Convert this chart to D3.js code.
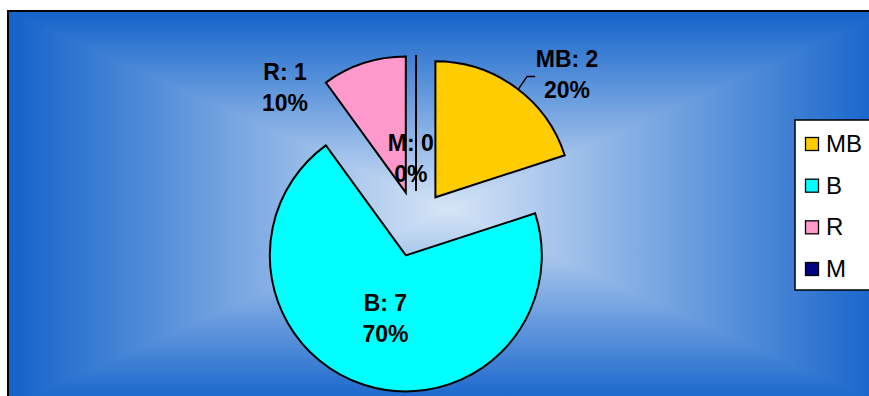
<!DOCTYPE html>
<html>
<head>
<meta charset="utf-8">
<script src="https://cdn.jsdelivr.net/npm/d3@7/dist/d3.min.js"></script>
<style>
  html, body { margin: 0; padding: 0; background: #ffffff; }
  svg { display: block; }
</style>
</head>
<body>
<svg id="chart" width="869" height="396"></svg>
<script>
// ---- data ----
const categories = ["MB", "B", "R", "M"];
const values = [2, 7, 1, 0];
const colors = ["#FFCC00", "#00FFFF", "#FF99CC", "#000080"];

// ---- layout ----
const svg = d3.select("#chart");
const plot = { x0: 8, y0: 11, x1: 888, y1: 407 };
const pieCenter = { x: 416, y: 224 };
const radius = 136;
const explode = 33;
const FONT = "'Liberation Sans', Arial, sans-serif";

// ---- background: rectangular "from center" gradient ----
const defs = svg.append("defs");
const cx = (plot.x0 + plot.x1) / 2, cy = (plot.y0 + plot.y1) / 2;
const edgeColor = "rgb(18,98,202)", centerColor = "rgb(214,229,246)";
function grad(id, x1, y1, x2, y2, spread) {
  const lg = defs.append("linearGradient").attr("id", id)
    .attr("gradientUnits", "userSpaceOnUse")
    .attr("x1", x1).attr("y1", y1).attr("x2", x2).attr("y2", y2)
    .attr("spreadMethod", spread || "pad");
  lg.append("stop").attr("offset", 0).attr("stop-color", edgeColor);
  lg.append("stop").attr("offset", 1).attr("stop-color", centerColor);
}
// horizontal gradient: edge -> center -> edge (reflect)
grad("gH", plot.x0, cy, cx, cy, "reflect");
grad("gTop", cx, plot.y0, cx, cy);
grad("gBot", cx, plot.y1, cx, cy);
svg.append("rect")
  .attr("x", plot.x0).attr("y", plot.y0)
  .attr("width", plot.x1 - plot.x0).attr("height", plot.y1 - plot.y0)
  .attr("fill", "url(#gH)");
svg.append("polygon")
  .attr("points", [[plot.x0, plot.y0], [plot.x1, plot.y0], [cx, cy]].map(p => p.join(",")).join(" "))
  .attr("fill", "url(#gTop)");
svg.append("polygon")
  .attr("points", [[plot.x0, plot.y1], [plot.x1, plot.y1], [cx, cy]].map(p => p.join(",")).join(" "))
  .attr("fill", "url(#gBot)");
svg.append("rect")
  .attr("x", plot.x0).attr("y", plot.y0)
  .attr("width", plot.x1 - plot.x0).attr("height", plot.y1 - plot.y0)
  .attr("fill", "none").attr("stroke", "#000").attr("stroke-width", 2);

// ---- pie ----
const data = categories.map((c, i) => ({ name: c, value: values[i], color: colors[i] }));
const total = d3.sum(values);
const pie = d3.pie().sort(null).value(d => d.value).startAngle(0).endAngle(2 * Math.PI);
const arcs = pie(data);
const arc = d3.arc().innerRadius(0).outerRadius(radius);

function offsetOf(a) {
  const mid = (a.startAngle + a.endAngle) / 2;
  return [Math.sin(mid) * explode, -Math.cos(mid) * explode];
}

const g = svg.append("g").attr("transform", `translate(${pieCenter.x},${pieCenter.y})`);
g.selectAll("path.slice")
  .data(arcs)
  .join("path")
  .attr("class", "slice")
  .attr("transform", d => `translate(${offsetOf(d)})`)
  .attr("d", d => {
    if (d.endAngle - d.startAngle < 1e-9) {
      const a = d.startAngle;
      return `M0,0L${Math.sin(a) * radius},${-Math.cos(a) * radius}`;
    }
    return arc(d);
  })
  .attr("fill", d => d.data.color)
  .attr("stroke", "#000")
  .attr("stroke-width", 2)
  .attr("stroke-linejoin", "miter");

// ---- data labels (polar placement relative to each exploded slice) ----
const labelPolar = {
  MB: { angle: 47, r: 180 },
  B: { angle: 198, r: 66 },
  R: { angle: 311, r: 160 },
  M: { angle: 351, r: 33 }
};
const lineGap = 31;
arcs.forEach(d => {
  const off = offsetOf(d);
  const lp = labelPolar[d.data.name];
  const rad = lp.angle * Math.PI / 180;
  const lx = off[0] + Math.sin(rad) * lp.r;
  const ly = off[1] - Math.cos(rad) * lp.r;
  const pct = Math.round(d.data.value / total * 100) + "%";
  const t = g.append("text")
    .attr("text-anchor", "middle")
    .attr("font-family", FONT)
    .attr("font-weight", "bold")
    .attr("font-size", 23)
    .attr("fill", "#000");
  t.append("tspan").attr("x", lx).attr("y", ly - lineGap / 2 + 8).text(`${d.data.name}: ${d.data.value}`);
  t.append("tspan").attr("x", lx).attr("y", ly + lineGap / 2 + 8).text(pct);
});

// leader line for MB
{
  const d = arcs[0];
  const off = offsetOf(d);
  const a = 37.5 * Math.PI / 180;
  const p0 = [off[0] + Math.sin(a) * radius, off[1] - Math.cos(a) * radius];
  const p1 = [p0[0] + 9, p0[1] - 13];
  const p2 = [p1[0] + 8, p1[1]];
  g.append("path")
    .attr("d", d3.line()([p0, p1, p2]))
    .attr("fill", "none").attr("stroke", "#000").attr("stroke-width", 1.5);
}

// ---- legend ----
const legend = { x: 795, y: 120, w: 95, h: 170 };
svg.append("rect")
  .attr("x", legend.x).attr("y", legend.y)
  .attr("width", legend.w).attr("height", legend.h)
  .attr("fill", "#fff").attr("stroke", "#000").attr("stroke-width", 1.5);
const legY = d3.scalePoint().domain(categories).range([152, 277]);
const items = svg.selectAll("g.leg").data(data).join("g").attr("class", "leg")
  .attr("transform", d => `translate(${legend.x},${legY(d.name)})`);
items.append("rect")
  .attr("x", 10.5).attr("y", -14.5).attr("width", 13).attr("height", 13)
  .attr("fill", d => d.color).attr("stroke", "#000").attr("stroke-width", 1.3);
items.append("text")
  .attr("x", 31).attr("y", 0)
  .attr("font-family", FONT).attr("font-size", 24)
  .attr("fill", "#000")
  .text(d => d.name);
</script>
</body>
</html>
